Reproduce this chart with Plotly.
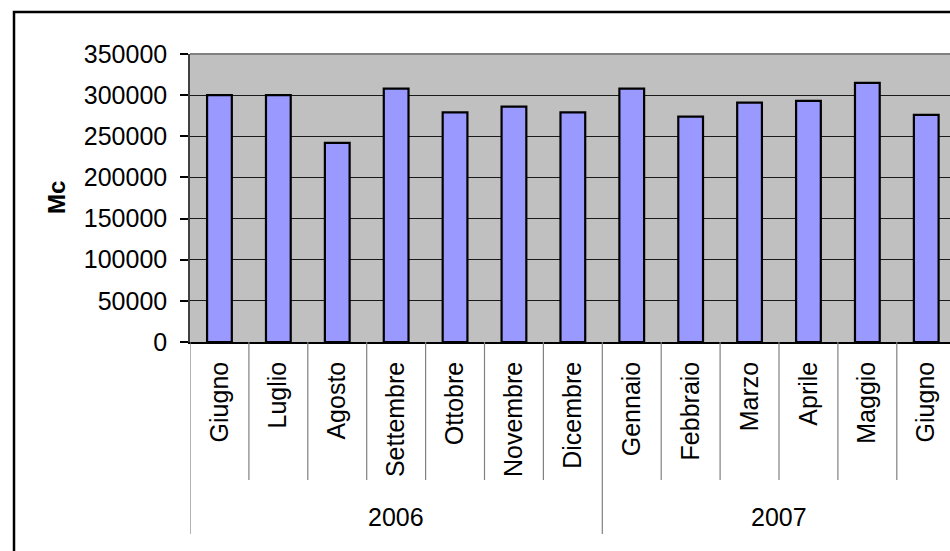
import plotly.graph_objects as go

# Monthly volumes (Mc), June 2006 - June 2007
months = ["Giugno", "Luglio", "Agosto", "Settembre", "Ottobre", "Novembre", "Dicembre",
          "Gennaio", "Febbraio", "Marzo", "Aprile", "Maggio", "Giugno"]
years = ["2006", "2007"]
year_spans = [(0, 6), (7, 12)]
volumes = [300000, 300000, 242000, 308000, 279000, 286000, 279000,
           308000, 274000, 291000, 293000, 315000, 276000]
y_ticks = [0, 50000, 100000, 150000, 200000, 250000, 300000, 350000]

FONT = "Liberation Sans, Arial, sans-serif"
positions = list(range(len(months)))

fig = go.Figure(
    go.Bar(
        x=positions,
        y=volumes,
        width=0.42,
        marker=dict(color="#9999FF", line=dict(color="#000000", width=2.2)),
        hoverinfo="y",
    )
)

# Plot-area geometry (pixels) used to express frame elements in paper units
W, H = 950, 551
L, T, B = 190, 54, 209
plot_w, plot_h = W - L, H - T - B


def px_x(px):
    return (px - L) / plot_w


def px_y(py):
    return (H - B - py) / plot_h


shapes = []
# outer chart frame
shapes.append(dict(type="rect", xref="paper", yref="paper",
                   x0=px_x(14), x1=px_x(1200), y0=px_y(12), y1=px_y(900),
                   line=dict(color="#000000", width=2.5), layer="below"))
# top edge of the plot area
shapes.append(dict(type="line", xref="paper", yref="paper", x0=0, x1=1, y0=1, y1=1,
                   line=dict(color="#808080", width=2)))

# category dividers below the axis
for i in range(len(months) + 1):
    xb = i - 0.5
    outer = xb in (-0.5, 6.5, 12.5)
    shapes.append(dict(type="line", xref="x", yref="paper", x0=xb, x1=xb,
                       y0=0, y1=px_y(534 if outer else 480),
                       line=dict(color="#808080", width=1.2)))

annotations = []
for name, (a, b) in zip(years, year_spans):
    annotations.append(dict(x=(a + b) / 2, y=px_y(517), xref="x", yref="paper",
                            text=name, showarrow=False,
                            font=dict(family=FONT, size=25, color="#000000"),
                            xanchor="center", yanchor="middle"))
annotations.append(dict(x=px_x(56), y=0.5, xref="paper", yref="paper",
                        text="<b>Mc</b>", textangle=-90, showarrow=False,
                        font=dict(family=FONT, size=24, color="#000000"),
                        xanchor="center", yanchor="middle"))

fig.update_layout(
    width=W, height=H,
    margin=dict(l=L, r=0, t=T, b=B, pad=0),
    paper_bgcolor="#FFFFFF",
    plot_bgcolor="#C0C0C0",
    showlegend=False,
    shapes=shapes,
    annotations=annotations,
    xaxis=dict(
        range=[-0.5, -0.5 + plot_w / 58.9],
        tickvals=positions,
        ticktext=months,
        tickangle=-90,
        ticks="",
        ticklabelstandoff=8,
        tickfont=dict(family=FONT, size=25, color="#000000"),
        showgrid=False,
        zeroline=False,
        showline=True,
        linecolor="#000000",
        linewidth=1.5,
        fixedrange=True,
    ),
    yaxis=dict(
        range=[0, 350000],
        tickvals=y_ticks,
        ticktext=[str(v) for v in y_ticks],
        ticks="outside",
        ticklen=8,
        tickwidth=1.5,
        tickcolor="#000000",
        ticklabelstandoff=8,
        tickfont=dict(family=FONT, size=25, color="#000000"),
        showgrid=True,
        gridcolor="#1a1a1a",
        gridwidth=1.2,
        zeroline=False,
        showline=True,
        linecolor="#404040",
        linewidth=1.5,
        fixedrange=True,
    ),
)

fig.write_html("out.html")
